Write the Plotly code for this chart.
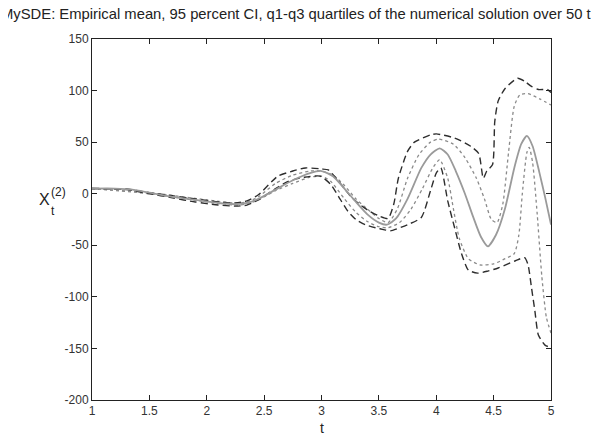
import plotly.graph_objects as go

# ---- data ----
t_mean = [1.0, 1.2, 1.35, 1.5, 1.7, 1.9, 2.1, 2.25, 2.35, 2.45, 2.6, 2.75, 2.9, 3.0, 3.1, 3.2, 3.3, 3.4, 3.5, 3.57,
          3.65, 3.75, 3.87, 3.95, 4.03, 4.1, 4.17, 4.25, 4.32, 4.39, 4.45, 4.52, 4.6, 4.68, 4.74, 4.79, 4.84, 4.9, 4.95, 5.0]
v_mean = [5, 5, 4, 1, -3, -6, -9, -10, -9, -5, 4, 13, 20, 22, 17, 5, -8, -20, -28, -30,
          -24, -5, 25, 38, 44, 38, 22, 0, -22, -42, -51, -40, -14, 25, 48, 56, 46, 20, -4, -30]

t_up_dash = [1.0, 1.3, 1.5, 1.7, 1.9, 2.1, 2.25, 2.35, 2.45, 2.62, 2.75, 2.86, 3.0, 3.06, 3.15, 3.25, 3.34, 3.42, 3.49,
             3.58, 3.63, 3.67, 3.75, 3.81, 3.95, 4.0, 4.16, 4.3, 4.37, 4.41, 4.44, 4.49, 4.51, 4.54, 4.6, 4.71, 4.77,
             4.83, 4.89, 4.97, 5.0]
v_up_dash = [5, 4.5, 1, -2, -5, -8, -9, -7, -1, 17, 22, 25, 24, 23, 12, -2, -11, -17, -21,
             -24, -10, 15, 41, 50, 57, 58, 54, 46, 39, 15, 22, 28, 70, 90, 102, 112, 109,
             104, 101, 101, 98]

t_lo_dash = [1.0, 1.3, 1.5, 1.7, 1.9, 2.1, 2.25, 2.35, 2.45, 2.6, 2.71, 2.85, 2.99, 3.08, 3.15, 3.23, 3.3, 3.38, 3.47,
             3.55, 3.6, 3.75, 3.87, 3.95, 4.0, 4.04, 4.1, 4.16, 4.22, 4.28, 4.36, 4.45, 4.54, 4.69, 4.77, 4.8, 4.83,
             4.86, 4.89, 4.95, 5.0]
v_lo_dash = [5, 4, 0, -4, -8, -11, -12, -11, -6, 5, 12, 16, 17, 9, -3, -17, -25, -30, -33,
             -35, -36, -30, -23, 3, 20, 25, -7, -33, -58, -74, -77, -75, -72, -65, -62, -69, -91,
             -114, -137, -147, -149]

t_up_dot = [1.0, 1.5, 2.0, 2.25, 2.35, 2.45, 2.6, 2.75, 2.9, 3.0, 3.1, 3.2, 3.3, 3.4, 3.5, 3.58, 3.66, 3.75, 3.85,
            3.95, 4.02, 4.15, 4.25, 4.35, 4.42, 4.48, 4.53, 4.58, 4.63, 4.68, 4.73, 4.8, 4.9, 5.0]
v_up_dot = [5, 1, -6, -9, -8, -3, 10, 18, 22, 22, 18, 8, -5, -15, -24, -28, -15, 15, 38,
            50, 53, 48, 35, 15, -5, -25, -28, -10, 40, 85, 96, 97, 92, 86]

t_lo_dot = [1.0, 1.5, 2.0, 2.25, 2.35, 2.45, 2.6, 2.75, 2.9, 3.0, 3.08, 3.2, 3.3, 3.4, 3.5, 3.58, 3.68, 3.78, 3.88,
            3.97, 4.03, 4.1, 4.15, 4.2, 4.28, 4.38, 4.5, 4.6, 4.68, 4.72, 4.75, 4.79, 4.81, 4.84, 4.88, 4.92, 4.96, 5.0]
v_lo_dot = [5, 0, -8, -11, -10, -6, 3, 10, 16, 17, 12, -5, -18, -27, -32, -33, -28, -15, 5,
            25, 33, 15, -15, -43, -63, -69, -68, -63, -58, -40, 0, 40, 45, 30, -20, -80, -120, -135]

x_ticks = [1, 1.5, 2, 2.5, 3, 3.5, 4, 4.5, 5]
x_tick_text = ["1", "1.5", "2", "2.5", "3", "3.5", "4", "4.5", "5"]
y_ticks = [-200, -150, -100, -50, 0, 50, 100, 150]
y_tick_text = ["-200", "-150", "-100", "-50", "0", "50", "100", "150"]

title_text = "MySDE: Empirical mean, 95 percent CI, q1-q3 quartiles of the numerical solution over 50 trajectories"

FONT = "Liberation Sans, Arial, sans-serif"

fig = go.Figure()
sm = 0.6
fig.add_trace(go.Scatter(x=t_up_dot, y=v_up_dot, mode="lines",
                         line=dict(color="#8a8a8a", width=1.3, dash="dot", shape="spline", smoothing=sm)))
fig.add_trace(go.Scatter(x=t_lo_dot, y=v_lo_dot, mode="lines",
                         line=dict(color="#8a8a8a", width=1.3, dash="dot", shape="spline", smoothing=sm)))
fig.add_trace(go.Scatter(x=t_up_dash, y=v_up_dash, mode="lines",
                         line=dict(color="#2e2e2e", width=1.4, dash="7px,4px", shape="spline", smoothing=sm)))
fig.add_trace(go.Scatter(x=t_lo_dash, y=v_lo_dash, mode="lines",
                         line=dict(color="#2e2e2e", width=1.4, dash="7px,4px", shape="spline", smoothing=sm)))
fig.add_trace(go.Scatter(x=t_mean, y=v_mean, mode="lines",
                         line=dict(color="#9a9a9a", width=1.8, shape="spline", smoothing=sm)))

axis_common = dict(showgrid=False, zeroline=False, showline=True, linecolor="#222", linewidth=1,
                   mirror="ticks", ticks="inside", ticklen=5, tickcolor="#222",
                   tickfont=dict(family=FONT, size=12, color="#333"))

fig.update_layout(
    width=599, height=435,
    margin=dict(l=84, r=56, t=31, b=43),
    paper_bgcolor="white", plot_bgcolor="white",
    showlegend=False,
    xaxis=dict(range=[1, 5], tickvals=x_ticks, ticktext=x_tick_text, **axis_common),
    yaxis=dict(range=[-200, 150], tickvals=y_ticks, ticktext=y_tick_text, **axis_common),
)

# title (wider than the page, clipped at both edges as in the reference)
fig.add_annotation(text=title_text, xref="paper", yref="paper", x=(-9 - 84) / 459, y=1.07,
                   xanchor="left", yanchor="middle", showarrow=False,
                   font=dict(family=FONT, size=14.8, color="#222"))
# x label
fig.add_annotation(text="t", xref="paper", yref="paper", x=0.5, y=-0.078,
                   xanchor="center", yanchor="middle", showarrow=False,
                   font=dict(family=FONT, size=14, color="#222"))
# y label X_t^(2), stacked sub/superscript
fig.add_annotation(text="X", xref="paper", yref="paper", x=(36 - 84) / 459, y=(392 - 191) / 361,
                   xanchor="center", yanchor="middle", showarrow=False,
                   font=dict(family=FONT, size=16, color="#222"))
fig.add_annotation(text="(2)", xref="paper", yref="paper", x=(50 - 84) / 459, y=(392 - 184) / 361,
                   xanchor="center", yanchor="middle", showarrow=False,
                   font=dict(family=FONT, size=12, color="#222"))
fig.add_annotation(text="t", xref="paper", yref="paper", x=(45 - 84) / 459, y=(392 - 203) / 361,
                   xanchor="center", yanchor="middle", showarrow=False,
                   font=dict(family=FONT, size=12, color="#222"))

fig.write_html("out.html")
